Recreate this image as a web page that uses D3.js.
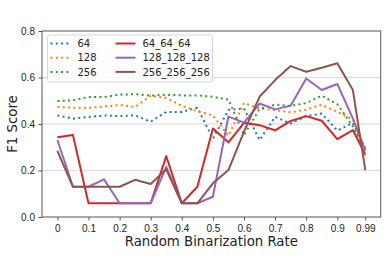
<!DOCTYPE html>
<html>
<head>
<meta charset="utf-8">
<script src="https://cdn.jsdelivr.net/npm/d3@7"></script>
<style>
  body { margin: 0; background: #fff; }
  svg { font-family: "DejaVu Sans", sans-serif; }
  .axis path, .axis line { stroke: #555; }
  .axis text { fill: #222; font-size: 10px; }
</style>
</head>
<body>
<svg id="chart" width="388" height="274"></svg>
<script>
// data
const rates = [0, 0.05, 0.1, 0.15, 0.2, 0.25, 0.3, 0.35, 0.4, 0.45, 0.5,
  0.55, 0.6, 0.65, 0.7, 0.75, 0.8, 0.85, 0.9, 0.95, 0.99];
const xTickValues = [0, 0.1, 0.2, 0.3, 0.4, 0.5, 0.6, 0.7, 0.8, 0.9, 0.99];
const xTickLabels = ["0", "0.1", "0.2", "0.3", "0.4", "0.5", "0.6", "0.7", "0.8", "0.9", "0.99"];
const yTickValues = [0, 0.2, 0.4, 0.6, 0.8];

const s64 = [0.437, 0.423, 0.43, 0.437, 0.434, 0.437, 0.41, 0.452, 0.452, 0.47, 0.337,
  0.46, 0.467, 0.331, 0.431, 0.402, 0.434, 0.445, 0.372, 0.405, 0.295];
const s128 = [0.473, 0.47, 0.47, 0.475, 0.482, 0.473, 0.522, 0.512, 0.478, 0.455, 0.437,
  0.35, 0.49, 0.467, 0.46, 0.45, 0.462, 0.483, 0.452, 0.42, 0.28];
const s256 = [0.499, 0.502, 0.516, 0.516, 0.526, 0.528, 0.522, 0.526, 0.523, 0.523, 0.517,
  0.505, 0.352, 0.465, 0.483, 0.478, 0.49, 0.522, 0.485, 0.39, 0.288];
const s64x3 = [0.343, 0.353, 0.059, 0.059, 0.059, 0.059, 0.059, 0.262, 0.059, 0.13, 0.381,
  0.321, 0.405, 0.395, 0.373, 0.413, 0.434, 0.414, 0.335, 0.374, 0.267];
const s128x3 = [0.331, 0.13, 0.13, 0.162, 0.059, 0.059, 0.059, 0.216, 0.059, 0.059, 0.087,
  0.432, 0.406, 0.488, 0.463, 0.479, 0.596, 0.546, 0.572, 0.424, 0.288];
const s256x3 = [0.284, 0.13, 0.13, 0.13, 0.13, 0.16, 0.142, 0.205, 0.059, 0.059, 0.145,
  0.202, 0.367, 0.517, 0.589, 0.649, 0.625, 0.642, 0.661, 0.546, 0.202];

const seriesNames = ["64", "128", "256", "64_64_64", "128_128_128", "256_256_256"];
const seriesValues = [s64, s128, s256, s64x3, s128x3, s256x3];
const seriesColors = ["#1f77b4", "#ff7f0e", "#2ca02c", "#d62728", "#9467bd", "#8c564b"];
const seriesDotted = [true, true, true, false, false, false];

//SETUP
const svg = d3.select("#chart");
const width = +svg.attr("width");
const height = +svg.attr("height");
const padding = { top: 31, right: 7.3, bottom: 57, left: 42 };

const ext = d3.extent(rates);
const pad = (ext[1] - ext[0]) * 0.05;
const xScale = d3.scaleLinear()
  .domain([ext[0] - pad, ext[1] + pad])
  .range([padding.left, width - padding.right]);
const yScale = d3.scaleLinear()
  .domain([0, 0.8])
  .range([height - padding.bottom, padding.top]);

// grid
svg.append("g")
  .selectAll("line")
  .data(yTickValues.slice(1, -1))
  .enter()
  .append("line")
  .attr("x1", padding.left)
  .attr("x2", width - padding.right)
  .attr("y1", d => yScale(d))
  .attr("y2", d => yScale(d))
  .attr("stroke", "#d9d9d9")
  .attr("stroke-width", 1);

// lines
const line = d3.line()
  .x((d, i) => xScale(rates[i]))
  .y(d => yScale(d));

svg.append("g")
  .selectAll("path")
  .data(seriesValues)
  .enter()
  .append("path")
  .attr("d", d => line(d))
  .attr("fill", "none")
  .attr("stroke", (d, i) => seriesColors[i])
  .attr("stroke-width", 2)
  .attr("stroke-dasharray", (d, i) => seriesDotted[i] ? "2,3.3" : null)
  .attr("stroke-linejoin", "round");

// axes
const xAxis = d3.axisBottom(xScale)
  .tickValues(xTickValues)
  .tickFormat((d, i) => xTickLabels[i])
  .tickSizeOuter(0)
  .tickSize(3.5)
  .tickPadding(4);
svg.append("g")
  .attr("class", "axis")
  .attr("transform", `translate(0,${height - padding.bottom})`)
  .call(xAxis)
  .call(g => g.select(".domain").remove());

const yAxis = d3.axisLeft(yScale)
  .tickValues(yTickValues)
  .tickFormat(d3.format(".1f"))
  .tickSizeOuter(0)
  .tickSize(3.5)
  .tickPadding(3.5);
svg.append("g")
  .attr("class", "axis")
  .attr("transform", `translate(${padding.left},0)`)
  .call(yAxis)
  .call(g => g.select(".domain").remove());

// frame
svg.append("rect")
  .attr("x", padding.left)
  .attr("y", padding.top)
  .attr("width", width - padding.left - padding.right)
  .attr("height", height - padding.top - padding.bottom)
  .attr("fill", "none")
  .attr("stroke", "#555")
  .attr("stroke-width", 1);

// labels
svg.append("text")
  .attr("x", (padding.left + width - padding.right) / 2)
  .attr("y", 246)
  .attr("text-anchor", "middle")
  .attr("font-size", "13.3px")
  .attr("fill", "#222")
  .text("Random Binarization Rate");

svg.append("text")
  .attr("transform", `translate(17,${(padding.top + height - padding.bottom) / 2}) rotate(-90)`)
  .attr("text-anchor", "middle")
  .attr("font-size", "13.3px")
  .attr("fill", "#222")
  .text("F1 Score");

// legend
const legend = svg.append("g").attr("transform", "translate(47.5,35)");
legend.append("rect")
  .attr("width", 165)
  .attr("height", 47)
  .attr("rx", 2.5)
  .attr("fill", "#fff")
  .attr("fill-opacity", 0.8)
  .attr("stroke", "#ccc")
  .attr("stroke-width", 0.8);

const items = legend.selectAll(".item")
  .data(seriesNames)
  .enter()
  .append("g")
  .attr("class", "item")
  .attr("transform", (d, i) => `translate(${i < 3 ? 3 : 68},${8.5 + (i % 3) * 14.2})`);

items.append("line")
  .attr("x1", 0)
  .attr("x2", 20)
  .attr("stroke", (d, i) => seriesColors[i])
  .attr("stroke-width", 2)
  .attr("stroke-dasharray", (d, i) => seriesDotted[i] ? "2,3.3" : null);

items.append("text")
  .attr("x", 27)
  .attr("y", 3.6)
  .attr("font-size", "10px")
  .attr("fill", "#222")
  .text(d => d);
</script>
</body>
</html>
